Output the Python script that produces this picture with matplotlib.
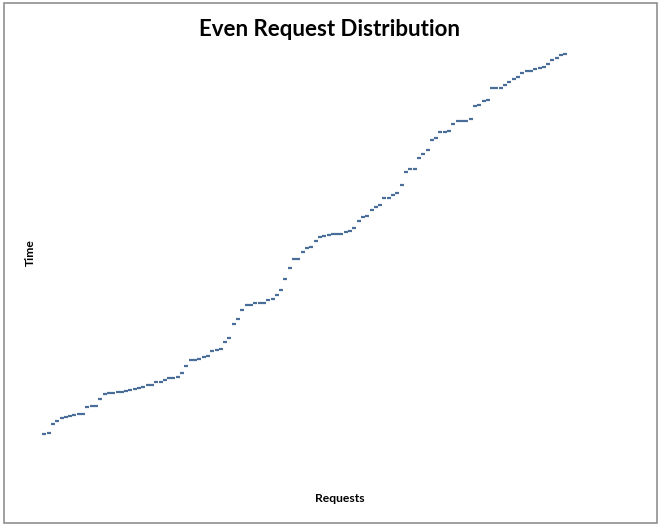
import matplotlib
matplotlib.use("Agg")
import matplotlib.pyplot as plt
from matplotlib.patches import Rectangle

plt.rcParams['font.family'] = ['Lato', 'DejaVu Sans']

# data (time in arbitrary units, one point per request)
requests = list(range(1, 123))
times = [6, 7, 16, 19, 22, 23, 24, 25, 26, 26,
         33, 34, 34, 41, 46, 47, 47, 48, 48, 49,
         50, 51, 52, 53, 55, 55, 58, 58, 60, 62,
         62, 63, 67, 74, 80, 80, 81, 83, 84, 89,
         90, 91, 98, 102, 116, 121, 130, 135, 135, 137,
         137, 137, 140, 141, 145, 150, 161, 172, 181, 181,
         188, 192, 193, 199, 203, 204, 205, 206, 206, 206,
         208, 209, 212, 219, 223, 224, 230, 233, 235, 242,
         242, 245, 247, 255, 268, 271, 271, 282, 286, 290,
         300, 302, 308, 308, 309, 316, 319, 319, 319, 321,
         334, 335, 339, 340, 352, 352, 352, 355, 358, 361,
         363, 367, 369, 369, 371, 372, 373, 376, 380, 382,
         385, 386]

W, H = 661, 527
fig = plt.figure(figsize=(W / 100, H / 100), dpi=100)

# plot area (pixels): left 40, bottom at y=440, top at y=40
ax = fig.add_axes([40 / W, (H - 440) / H, 559.8 / W, 400 / H])
ax.plot(requests, times, linestyle='none', marker='_', ms=3, mew=1.6,
        color='#4a6e9a')
ax.set_xlim(0, 130)
ax.set_ylim(0, 400)
ax.set_xticks([])
ax.set_yticks([])
for s in ax.spines.values():
    s.set_visible(False)

fig.text(329.5 / W, 1 - 29 / H, "Even Request Distribution", ha='center',
         va='center', fontsize=16, fontweight='bold')
fig.text(340 / W, 1 - 499 / H, "Requests", ha='center', va='center',
         fontsize=8.7, fontweight='bold')
fig.text(30 / W, 1 - 253 / H, "Time", ha='center', va='center',
         rotation=90, fontsize=8.7, fontweight='bold')

# outer chart border
fig.patches.append(Rectangle((4 / W, (H - 523) / H), 653 / W, 520 / H,
                             transform=fig.transFigure, fill=False,
                             edgecolor='#868686', linewidth=1.1))

fig.savefig("out.png", dpi=100)
